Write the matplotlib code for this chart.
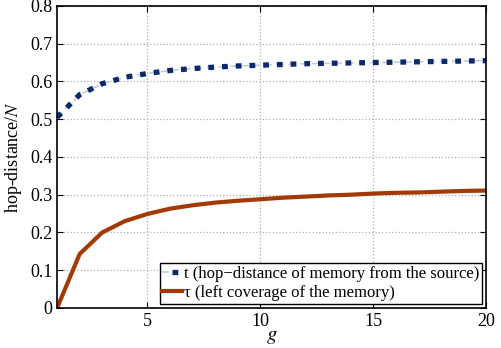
import matplotlib
matplotlib.use("Agg")
import matplotlib.pyplot as plt
from matplotlib.legend_handler import HandlerTuple

g = list(range(1, 21))
t_vals = [0.505, 0.565, 0.594, 0.611, 0.621, 0.629, 0.634, 0.638, 0.641, 0.643,
          0.645, 0.647, 0.648, 0.649, 0.650, 0.651, 0.652, 0.653, 0.654, 0.655]
tau_vals = [0.0, 0.143, 0.200, 0.230, 0.249, 0.263, 0.272, 0.279, 0.284, 0.288,
            0.292, 0.295, 0.298, 0.300, 0.303, 0.305, 0.306, 0.308, 0.310, 0.311]
xticks = [5, 10, 15, 20]
yticks = [0, 0.1, 0.2, 0.3, 0.4, 0.5, 0.6, 0.7, 0.8]
ytick_labels = ["0", "0.1", "0.2", "0.3", "0.4", "0.5", "0.6", "0.7", "0.8"]

plt.rcParams['font.family'] = ['Liberation Serif', 'DejaVu Serif']
plt.rcParams['mathtext.fontset'] = 'stix'

fig = plt.figure(figsize=(5.01, 3.48), dpi=100)
ax = fig.add_axes([0.114, 0.115, 0.856, 0.868])

blue = '#0c2a6b'
l_under, = ax.plot(g, t_vals, color='#c3cce0', lw=1.2, linestyle=(0, (4, 3)))
l_t, = ax.plot(g, t_vals, color=blue, lw=3.8, linestyle=(0, (1.1, 1.5)),
               dash_capstyle='butt')
l_tau, = ax.plot(g, tau_vals, color='#a33a06', lw=3)

ax.set_xlim(1, 20)
ax.set_ylim(0, 0.8)
ax.set_xticks(xticks)
ax.set_yticks(yticks)
ax.set_yticklabels(ytick_labels)
ax.tick_params(direction='in', top=True, right=True, labelsize=13, length=4)
ax.grid(True, linestyle=':', color='#b0b0b0', lw=0.9)
for s in ax.spines.values():
    s.set_linewidth(1.2)

ax.set_xlabel('$g$', fontsize=15, labelpad=-2)
ax.set_ylabel('hop-distance/$N$', fontsize=13, labelpad=4)

leg = ax.legend([(l_under, l_t), l_tau],
                ['t (hop\u2212distance of memory from the source)',
                 '\u03c4 (left coverage of the memory)'],
                handler_map={tuple: HandlerTuple(ndivide=None, pad=0)},
                loc='lower right', fontsize=12, frameon=True, fancybox=False,
                edgecolor='black', framealpha=1, handlelength=1.2, handletextpad=0.1,
                borderpad=0.15, labelspacing=0.2, borderaxespad=0.25)
leg.get_frame().set_linewidth(1.0)

fig.savefig('out.png', dpi=100)
